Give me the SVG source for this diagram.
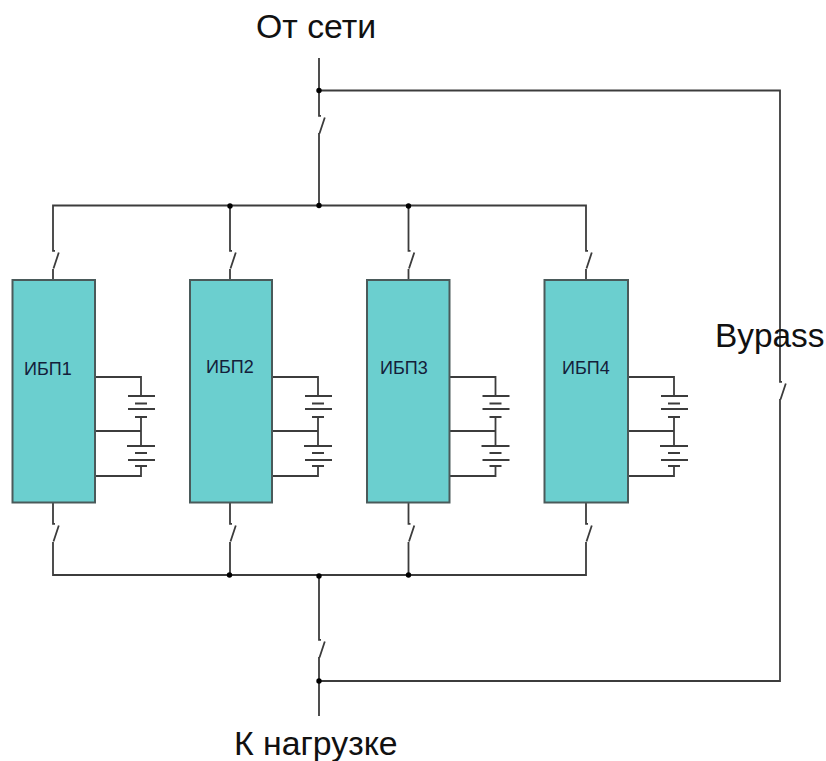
<svg xmlns="http://www.w3.org/2000/svg" width="826" height="761" viewBox="0 0 826 761">
<style>
.w{fill:none;stroke:#3c3c3c;stroke-width:1.8}
.u{fill:#6bcfcf;stroke:#4a5a5a;stroke-width:2}
.d{fill:#000}
.l{font-family:"Liberation Sans",Arial,sans-serif;font-size:33.800px;fill:#111}
.s{font-family:"Liberation Sans",Arial,sans-serif;font-size:18px;fill:#14203a}
</style>
<defs>
<path id="sw" class="w" d="M0 0V0.8H2M5.8 2.5L0.5 18.5"/>
<g id="bat" class="w">
<path d="M0 0H46V19M33 19H60M40 26.500H52M33 32H60M40 40H52M46 40V69"/>
<path d="M0 54H46M32 69H60M40 76H52M33 83H60M40 89H52M46 89V99H0"/>
</g>
</defs>
<rect width="826" height="761" fill="#fff"/>
<g id="connectors">
<path class="w" d="M319 58V115M319 133V205.500M53 250V205.500H586V250M230 205.500V250M408.500 205.500V250M53 269V280M230 269V280M408.500 269V280M586 269V280"/>
<path class="w" d="M53 503V523M230 503V523M408.500 503V523M586 503V523M53 542V575H586V542M230 542V575M408.500 542V575M319 575V639M319 657V716M319 90.500H780V381M780 399V681H319"/>
<use href="#sw" x="53" y="250"/><use href="#sw" x="230" y="250"/><use href="#sw" x="408.500" y="250"/><use href="#sw" x="586" y="250"/>
<use href="#sw" x="53" y="523"/><use href="#sw" x="230" y="523"/><use href="#sw" x="408.500" y="523"/><use href="#sw" x="586" y="523"/>
<use href="#sw" x="319" y="115"/><use href="#sw" x="319" y="639"/><use href="#sw" x="780" y="381"/>
<g class="d"><circle cx="319" cy="90.500" r="2.700"/><circle cx="319" cy="205.500" r="2.700"/><circle cx="230" cy="206" r="2.700"/><circle cx="408.500" cy="206" r="2.700"/><circle cx="229.500" cy="575" r="2.700"/><circle cx="319" cy="576" r="2.700"/><circle cx="408.500" cy="575" r="2.700"/><circle cx="319" cy="681" r="2.700"/></g>
<use href="#bat" x="95" y="377"/><use href="#bat" x="272" y="377"/><use href="#bat" x="449.500" y="377"/><use href="#bat" x="628" y="377"/>
</g>
<g id="ups1"><rect class="u" x="12.500" y="280" width="82.500" height="222.500"/><text class="s" x="24" y="375">ИБП1</text></g>
<g id="ups2"><rect class="u" x="190" y="280" width="82" height="222.500"/><text class="s" x="206" y="373">ИБП2</text></g>
<g id="ups3"><rect class="u" x="367" y="280" width="82.500" height="222.500"/><text class="s" x="380" y="374">ИБП3</text></g>
<g id="ups4"><rect class="u" x="544.500" y="280" width="83.500" height="222.500"/><text class="s" x="562" y="374">ИБП4</text></g>
<text class="l" x="256" y="38">От сети</text>
<text class="l" x="715" y="347" style="font-size:33.400px">Bypass</text>
<text class="l" x="234" y="755">К нагрузке</text>
</svg>
